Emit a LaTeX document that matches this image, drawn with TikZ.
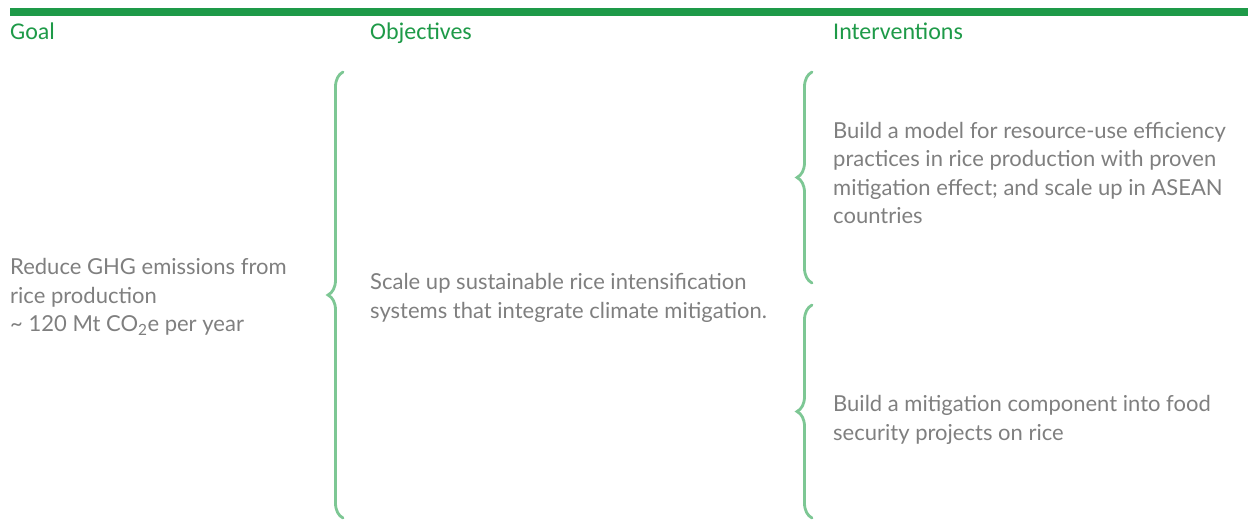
\documentclass[tikz,border=0pt]{standalone}
\usepackage{fontspec}
\setmainfont{Lato}
\newfontfamily\headfont{Carlito}
\usetikzlibrary{positioning,calc,decorations.pathreplacing}
\definecolor{RiceGreen}{RGB}{30,154,72}
\definecolor{BraceGreen}{RGB}{125,199,148}
\definecolor{TextGrey}{RGB}{127,127,127}
\tikzset{
    header/.style={anchor=base west, inner sep=0pt, text=RiceGreen, font=\headfont\fontsize{24}{28}\selectfont},
    bodytext/.style={anchor=west, align=left, inner sep=0pt, text=TextGrey, font=\fontsize{22}{28.5}\selectfont},
    bracket/.style={draw=BraceGreen, line width=2.8pt, line cap=round, decorate, decoration={brace, amplitude=15pt}}
}

\begin{document}
\begin{tikzpicture}[x=1pt, y=-1pt]
    \useasboundingbox (0,0) rectangle (1248,522);
    % Top bar and column titles
    \fill[RiceGreen] (10,8) rectangle (1248,16);
    \node[header] (hgoal) at (10,39) {Goal};
    \node[header] (hobj) at (370,39) {Objectives};
    \node[header] (hint) at (833,39) {Interventions};

    % Texts of the three columns
    \node[bodytext] (goaltext) at (10,297) {Reduce GHG emissions from\\rice production\\\textasciitilde{} 120 Mt CO\textsubscript{2}e per year};
    \node[bodytext] (objtext) at (370,298) {Scale up sustainable rice intensification\\systems that integrate climate mitigation.};
    \node[bodytext] (intvone) at (833,173) {Build a model for resource-use efficiency\\practices in rice production with proven\\mitigation effect; and scale up in ASEAN\\countries};
    \node[bodytext] (intvtwo) at (833,420) {Build a mitigation component into food\\security projects on rice};

    % Braces
    \coordinate (objtop) at (343,72);
    \coordinate (objbot) at (343,518);
    \coordinate (onetop) at (812,72);
    \coordinate (onebot) at (812,283);
    \coordinate (twotop) at (812,305);
    \coordinate (twobot) at (812,518);
    \draw[bracket] (objbot) -- (objtop);
    \draw[bracket] (onebot) -- (onetop);
    \draw[bracket] (twobot) -- (twotop);
\end{tikzpicture}
\end{document}
